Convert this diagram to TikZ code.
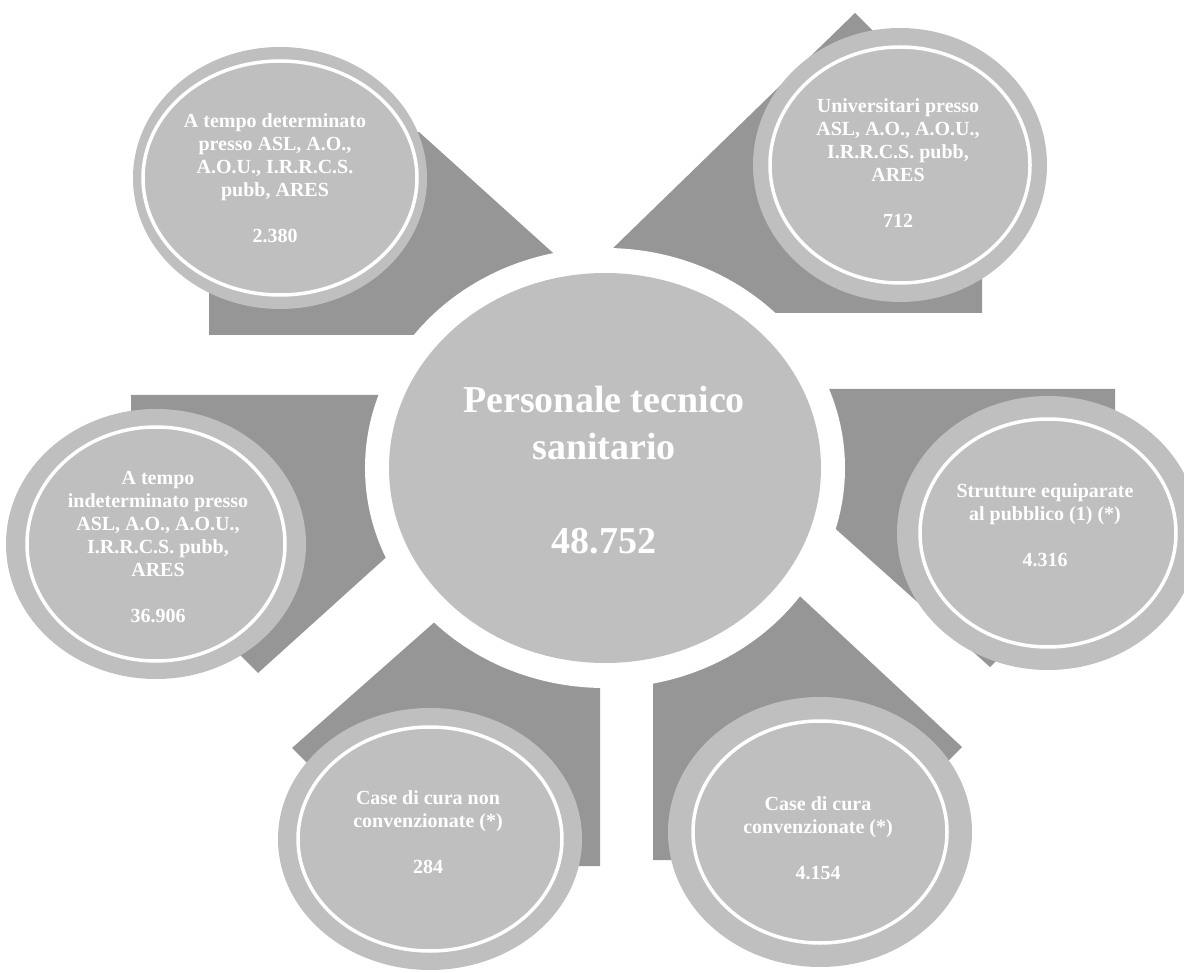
\documentclass[tikz,border=0pt]{standalone}
\usepackage{fontspec}
\setmainfont{Liberation Serif}
\definecolor{darkg}{RGB}{150,150,150}
\definecolor{lightg}{RGB}{191,191,191}
% #1 cx, #2 cy, #3 rx, #4 ry, #5 ring rx, #6 ring ry
\newcommand\mysat[6]{%
  \fill[lightg] (#1,#2) ellipse [x radius=#3pt, y radius=#4pt];
  \draw[white, line width=3.5pt] (#1,#2) ellipse [x radius=#5pt, y radius=#6pt];
}
\begin{document}
\begin{tikzpicture}[x=1pt,y=-1pt,
  darkshape/.style={fill=darkg},
  txt/.style={text=white, font=\bfseries\fontsize{20}{23}\selectfont, align=center, inner sep=0pt},
  bigtxt/.style={text=white, font=\bfseries\fontsize{38}{47}\selectfont, align=center, inner sep=0pt}]
\useasboundingbox (0,0) rectangle (1184,973);
% dark corner shapes
\fill[darkshape] (419,132) -- (593,289) -- (593,335) -- (209,335) -- (209,178) -- (280,178) -- cycle;
\fill[darkshape] (855,13) -- (573,287) -- (700,313) -- (982,313) -- (982,140) -- (950,108) -- cycle;
\fill[darkshape] (131,395) -- (425,395) -- (423,524) -- (258,673) -- (198,613) -- (131,544) -- cycle;
\fill[darkshape] (1115,389) -- (790,389) -- (800,497) -- (990,667) -- (1050,607) -- (1115,533) -- cycle;
\fill[darkshape] (292,748) -- (472,589) -- (600,589) -- (600,866) -- (430,866) -- (332,788) -- cycle;
\fill[darkshape] (653,860) -- (653,600) -- (762,561) -- (962,747) -- (922,787) -- (820,860) -- cycle;
% white halo and central circle
\fill[white] (605,468) ellipse [x radius=240pt, y radius=220pt];
\fill[lightg] (605,468) ellipse [x radius=216pt, y radius=195pt];
% satellites
\mysat{280}{178}{147}{131}{137}{117}
\mysat{900}{165}{147}{137}{130}{118}
\mysat{156}{544}{150}{135}{129}{117}
\mysat{1048}{533}{151}{137}{128}{114}
\mysat{430}{839}{152}{131}{132}{112}
\mysat{820}{832}{152}{135}{127}{111}
% texts
\node[bigtxt] (main) at (604,470) {Personale tecnico\\sanitario\\[47pt]48.752};
\node[txt] (tl) at (275,178) {A tempo determinato\\presso ASL, A.O.,\\A.O.U., I.R.R.C.S.\\pubb, ARES\\[23pt]2.380};
\node[txt] (tr) at (898,163) {Universitari presso\\ASL, A.O., A.O.U.,\\I.R.R.C.S. pubb,\\ARES\\[23pt]712};
\node[txt] (lf) at (158,547) {A tempo\\indeterminato presso\\ASL, A.O., A.O.U.,\\I.R.R.C.S. pubb,\\ARES\\[23pt]36.906};
\node[txt] (rt) at (1045,525) {Strutture equiparate\\al pubblico (1) (*)\\[23pt]4.316};
\node[txt] (bl) at (428,832) {Case di cura non\\convenzionate (*)\\[23pt]284};
\node[txt] (br) at (818,838) {Case di cura\\convenzionate (*)\\[23pt]4.154};
\end{tikzpicture}
\end{document}
